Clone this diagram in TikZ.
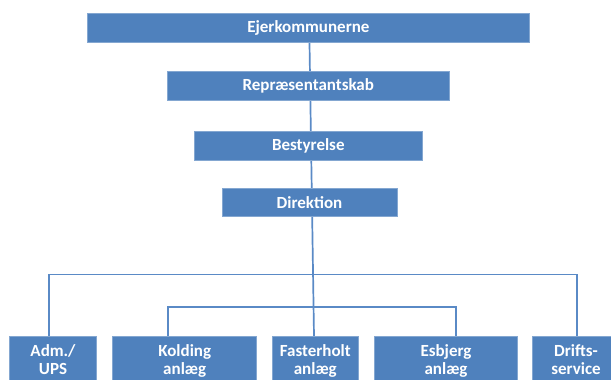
\documentclass[tikz,border=0pt]{standalone}
\usepackage{fontspec}
\setmainfont{Carlito}
\usetikzlibrary{backgrounds}
\definecolor{boxblue}{HTML}{4F81BD}
\definecolor{lineblue}{HTML}{5A8AC6}
\tikzset{
  topbox/.style={rectangle, fill=boxblue, draw=boxblue!70!white, line width=0.6pt,
    text=white, font=\bfseries\fontsize{17}{20}\selectfont, inner sep=0pt},
  unitbox/.style={rectangle, fill=boxblue, draw=boxblue!70!white, line width=0.6pt,
    text=white, font=\bfseries\fontsize{17}{18.6}\selectfont, align=center,
    anchor=north, text height=31.6pt, text depth=10pt, inner xsep=0pt, inner ysep=7pt},
  link/.style={draw=lineblue, line width=1.7pt}
}
\begin{document}
\begin{tikzpicture}[x=1pt,y=1pt]
\useasboundingbox (0,0) rectangle (611,380);
\node[topbox, minimum width=441.8pt, minimum height=29.4pt] (ejer) at (308.4,352) {Ejerkommunerne};
\node[topbox, minimum width=282pt, minimum height=29pt] (repr) at (308.3,293.8) {Repræsentantskab};
\node[topbox, minimum width=228pt, minimum height=29.3pt] (best) at (308.3,234.3) {Bestyrelse};
\node[topbox, minimum width=175pt, minimum height=28.8pt] (dir) at (309.5,177.6) {Direktion};
\node[unitbox, minimum width=87.4pt] (adm) at (53,44) {Adm./\\UPS};
\node[unitbox, minimum width=144pt] (kold) at (184.7,44) {Kolding\\anlæg};
\node[unitbox, minimum width=86pt] (fast) at (315.3,44) {Fasterholt\\anlæg};
\node[unitbox, minimum width=143pt] (esb) at (446,44) {Esbjerg\\anlæg};
\node[unitbox, minimum width=87.4pt] (drif) at (576,44) {Drifts-\\service};
\begin{scope}[on background layer]
\draw[link] ([xshift=1.1pt]ejer.south) -- ([xshift=-1.3pt]fast.north);
\draw[link] ([xshift=-4pt]adm.north) -- ++(0,61.5) -| ([xshift=0.7pt]drif.north);
\draw[link] ([xshift=-16.4pt]kold.north) -- ++(0,28.7) -| ([xshift=9.7pt]esb.north);
\end{scope}
\end{tikzpicture}
\end{document}
